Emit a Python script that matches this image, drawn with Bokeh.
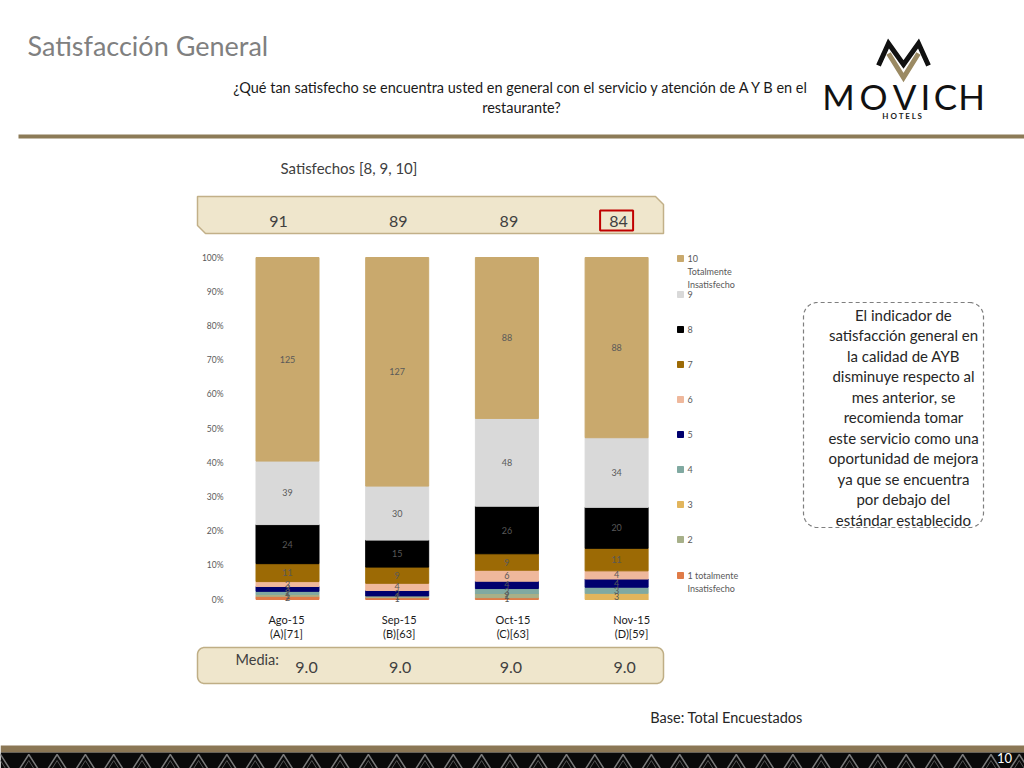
import numpy as np
from bokeh.plotting import figure
from bokeh.models import Range1d, ColumnDataSource
from bokeh.core.properties import value
from bokeh.embed import file_html
from bokeh.resources import INLINE

# ---------------- data ----------------
months = ["Ago-15", "Sep-15", "Oct-15", "Nov-15"]
bases = ["(A)[71]", "(B)[63]", "(C)[63]", "(D)[59]"]
satisfechos = [91, 89, 89, 84]
media = [9.0, 9.0, 9.0, 9.0]

scores = ["1", "2", "3", "4", "5", "6", "7", "8", "9", "10"]
c1 = [2, 1, 1, 0]
c2 = [1, 1, 2, 0]
c3 = [0, 0, 0, 3]
c4 = [2, 0, 3, 3]
c5 = [3, 3, 4, 4]
c6 = [3, 4, 6, 4]
c7 = [11, 9, 9, 11]
c8 = [24, 15, 26, 20]
c9 = [39, 30, 48, 34]
c10 = [125, 127, 88, 88]
counts = [c1, c2, c3, c4, c5, c6, c7, c8, c9, c10]

legend_labels = ["1 totalmente", "2", "3", "4", "5", "6", "7", "8", "9", "10"]
colors = ["#e07b47", "#a7b089", "#e2b55c", "#80a9a1", "#00006e",
          "#efb89c", "#9c6a05", "#000000", "#d9d9d9", "#c9a96d"]
y_ticks = [0, 10, 20, 30, 40, 50, 60, 70, 80, 90, 100]

comment_lines = ["El indicador de", "satisfacción general en", "la calidad de AYB",
                 "disminuye respecto al", "mes anterior, se", "recomienda tomar",
                 "este servicio como una", "oportunidad de mejora",
                 "ya que se encuentra", "por debajo del", "estándar establecido"]

FONT = value("Lato")

# ---------------- canvas ----------------
W, H = 1024, 768
p = figure(width=W, height=H, x_range=Range1d(0, W), y_range=Range1d(H, 0),
           output_backend="svg", toolbar_location=None, min_border=0,
           x_axis_location=None, y_axis_location=None)
p.grid.visible = False
p.outline_line_color = None
p.background_fill_color = "white"
p.border_fill_color = "white"

# extra ranges for the chart (0% at y=599, 100% at y=257; bars 109.7px apart)
px_per = (599 - 257) / 100.0
ys0 = -(H - 599) / px_per
p.extra_y_ranges = {"pct": Range1d(ys0, ys0 + H / px_per)}
spacing = 109.7
xa = -287 / spacing
p.extra_x_ranges = {"cx": Range1d(xa, xa + W / spacing)}


def rrect(x0, y0, x1, y1, r, n=10):
    xs, ys = [], []
    corners = [(x1 - r, y0 + r, -90, 0), (x1 - r, y1 - r, 0, 90),
               (x0 + r, y1 - r, 90, 180), (x0 + r, y0 + r, 180, 270)]
    for cx, cy, a0, a1 in corners:
        for t in np.linspace(np.radians(a0), np.radians(a1), n):
            xs.append(cx + r * np.cos(t))
            ys.append(cy + r * np.sin(t))
    return xs, ys


# header
p.text(x=[27], y=[45], text=["Satisfacción General"], text_font=FONT,
       text_font_size="27px", text_color="#808080", text_baseline="middle")
p.text(x=[521, 521], y=[87, 107],
       text=["¿Qué tan satisfecho se encuentra usted en general con el servicio y atención de A Y B en el",
             "restaurante?"],
       text_font=FONT, text_font_size="14.5px", text_color="#1a1a1a",
       text_align="center", text_baseline="middle")
p.line([18, 1024], [136, 136], line_width=4, line_color="#8c7b57")

# logo
p.line([878, 888, 903, 918, 928], [65, 43, 64, 43, 65], line_width=5,
       line_color="#111111", line_join="miter")
p.line([888, 903, 918], [53, 77, 53], line_width=5, line_color="#9b8a63", line_join="miter")
logo_letters = ["M", "O", "V", "I", "C", "H"]
logo_x = [838, 873, 904, 925, 945, 971]
p.text(x=logo_x, y=[95] * 6, text=logo_letters, text_font=FONT, text_font_size="35px",
       text_color="#111111", text_align="center", text_baseline="middle")
p.text(x=[902], y=[115], text=["H O T E L S"], text_font=FONT, text_font_size="8px",
       text_font_style="bold", text_color="#222222", text_align="center", text_baseline="middle")

# subtitle
p.text(x=[280], y=[167], text=["Satisfechos [8, 9, 10]"], text_font=FONT,
       text_font_size="15px", text_color="#404040", text_baseline="middle")

# top banner
p.patch([197, 655, 663, 663, 205, 197], [196, 196, 204, 233, 233, 225],
        fill_color="#efe6cc", line_color="#c2b088", line_width=1.5)
idx = list(range(len(months)))
p.text(x=idx, y=[221] * 4, text=[str(v) for v in satisfechos], x_range_name="cx",
       x_offset=[-9, 1, 2, 2],
       text_font=FONT, text_font_size="16px", text_color="#404040",
       text_align="center", text_baseline="middle")
p.rect(x=[idx[-1]], y=[220], width=33 / spacing, height=20, x_range_name="cx",
       fill_alpha=0, line_color="#c00000", line_width=2)

# bottom banner
bx, by = rrect(197, 647, 663, 683, 7)
p.patch(bx, by, fill_color="#efe6cc", line_color="#bfae85", line_width=1.5)
p.text(x=[235], y=[659], text=["Media:"], text_font=FONT, text_font_size="14.5px",
       text_color="#404040", text_baseline="middle")
p.text(x=idx, y=[667] * 4, text=[f"{m:.1f}" for m in media], x_range_name="cx",
       x_offset=[19, 3, 4, 8],
       text_font=FONT, text_font_size="16px", text_color="#404040",
       text_align="center", text_baseline="middle")

# stacked bars
totals = [sum(c[i] for c in counts) for i in idx]
data = {"x": idx}
for s, c in zip(scores, counts):
    data["s" + s] = [c[i] / totals[i] * 100 for i in idx]
src = ColumnDataSource(data)
p.vbar_stack(["s" + s for s in scores], x="x", width=63 / spacing, color=colors,
             source=src, x_range_name="cx", y_range_name="pct")

lx, ly, lt = [], [], []
for i in idx:
    cum = 0.0
    for s, c in zip(scores, counts):
        pc = c[i] / totals[i] * 100
        if c[i] > 0:
            lx.append(i)
            ly.append(cum + pc / 2)
            lt.append(str(c[i]))
        cum += pc
p.text(x=lx, y=ly, text=lt, x_range_name="cx", y_range_name="pct", text_font=FONT,
       text_font_size="9px", text_color="#595959", text_align="center", text_baseline="middle")

# y tick labels
p.text(x=[223] * len(y_ticks), y=y_ticks, text=[f"{t}%" for t in y_ticks], y_range_name="pct",
       text_font=FONT, text_font_size="8.5px", text_color="#595959",
       text_align="right", text_baseline="middle")

# x labels
p.text(x=idx, y=[619] * 4, text=months, x_range_name="cx", x_offset=[-1, 2, 6, 15],
       text_font=FONT, text_font_size="11px", text_color="#1a1a1a",
       text_align="center", text_baseline="middle")
p.text(x=idx, y=[633] * 4, text=bases, x_range_name="cx", x_offset=[-1, 2, 6, 15],
       text_font=FONT, text_font_size="11px", text_color="#1a1a1a",
       text_align="center", text_baseline="middle")

# legend
leg_y = [575, 539, 504, 469, 434, 399, 364, 329, 294, 258]
p.scatter(x=[680] * 10, y=leg_y, marker="square", size=6, color=colors)
p.text(x=[687] * 10, y=leg_y, text=legend_labels, text_font=FONT, text_font_size="9px",
       text_color="#595959", text_baseline="middle")
p.text(x=[687, 687, 687], y=[271, 284, 588], text=["Totalmente", "Insatisfecho", "Insatisfecho"],
       text_font=FONT, text_font_size="9px", text_color="#595959", text_baseline="middle")

# comment box
rx, ry = rrect(803, 302, 983, 527, 14)
p.patch(rx, ry, fill_alpha=0, line_color="#7f7f7f", line_width=1.2, line_dash="4 3")
cy = [314 + 20.5 * k for k in range(len(comment_lines))]
p.text(x=[903] * len(comment_lines), y=cy, text=comment_lines, text_font=FONT,
       text_font_size="15px", text_color="#262626", text_align="center", text_baseline="middle")

p.text(x=[726], y=[717], text=["Base: Total Encuestados"], text_font=FONT,
       text_font_size="14.5px", text_color="#262626", text_align="center", text_baseline="middle")

# footer
p.patch([0, 1024, 1024, 0], [745, 745, 752, 752], fill_color="#8b7755", line_color=None)
p.patch([0, 1024, 1024, 0], [752, 752, 768, 768], fill_color="#0a0a0a", line_color=None)
tri_x = np.arange(0, 1030, 28.3)
p.multi_line([[t - 9, t, t + 9] for t in tri_x], [[768, 754, 768]] * len(tri_x),
             line_color="#7a7a7a", line_width=1.5)
p.multi_line([[t - 5, t, t + 5] for t in tri_x], [[768, 760, 768]] * len(tri_x),
             line_color="#555555", line_width=1)
p.text(x=[1004], y=[757], text=["10"], text_font=FONT, text_font_size="13px",
       text_color="white", text_align="center", text_baseline="middle")

open("out.html", "w").write(file_html(p, INLINE))
